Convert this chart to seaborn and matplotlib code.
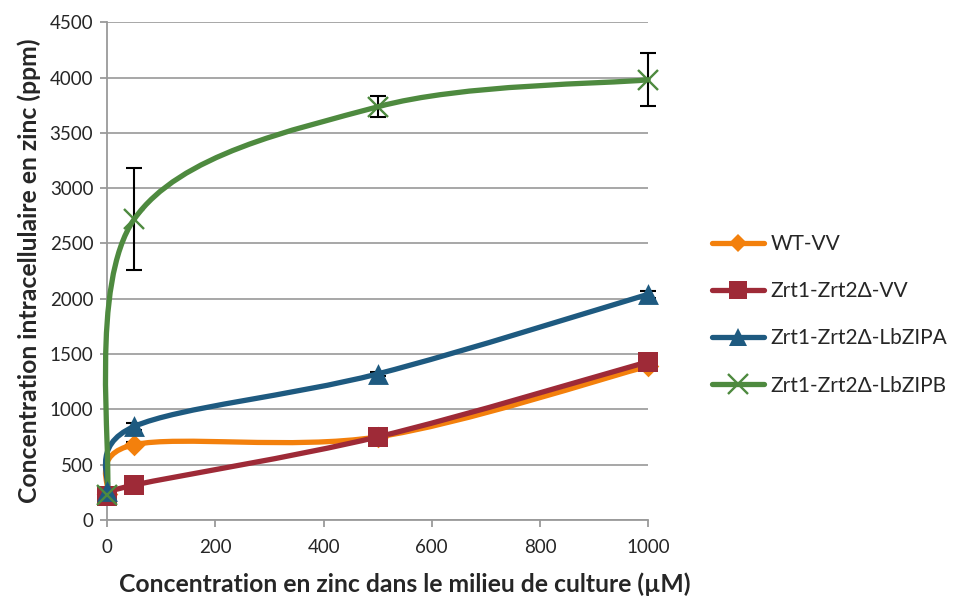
import numpy as np
import pandas as pd
import matplotlib
matplotlib.use("Agg")
import matplotlib.pyplot as plt
from matplotlib.path import Path
from matplotlib.patches import PathPatch
from matplotlib.lines import Line2D
import seaborn as sns

# data
zinc = [0, 50, 500, 1000]
wt_vv = [230, 680, 750, 1390]
vv = [215, 315, 750, 1430]
lbzipa = [260, 845, 1320, 2040]
lbzipb = [225, 2720, 3735, 3980]
err_wt = [15, 20, 20, 30]
err_vv = [15, 40, 20, 25]
err_a = [15, 30, 20, 30]
err_b = [15, 465, 95, 240]

series = ["WT-VV", "Zrt1-Zrt2Δ-VV", "Zrt1-Zrt2Δ-LbZIPA", "Zrt1-Zrt2Δ-LbZIPB"]
values = [wt_vv, vv, lbzipa, lbzipb]
errors = [err_wt, err_vv, err_a, err_b]
colors = ["#F3800C", "#9E2A37", "#1E5A80", "#4E8A3F"]
markers = ["D", "s", "^", "x"]
msizes = [11, 15, 15, 14]

sns.set_style("white")
plt.rcParams["font.family"] = ["Lato", "DejaVu Sans"]

fig = plt.figure(figsize=(9.66, 6.01), dpi=100)
ax = fig.add_axes([0.111, 0.135, 0.56, 0.828])


def smooth_path(xs, ys):
    # Excel-style smoothed line: cubic bezier with catmull-rom control points
    p = np.column_stack([xs, ys]).astype(float)
    n = len(p)
    verts = [p[0]]
    codes = [Path.MOVETO]
    for i in range(n - 1):
        p0 = p[i - 1] if i > 0 else p[i]
        p3 = p[i + 2] if i + 2 < n else p[i + 1]
        c1 = p[i] + (p[i + 1] - p0) / 6
        c2 = p[i + 1] - (p3 - p[i]) / 6
        verts += [c1, c2, p[i + 1]]
        codes += [Path.CURVE4] * 3
    return Path(verts, codes)


rows = []
for name, vals in zip(series, values):
    for x, y in zip(zinc, vals):
        rows.append({"zinc": x, "ppm": y, "souche": name})
df = pd.DataFrame(rows)

for name, vals, errs, c in zip(series, values, errors, colors):
    eb = ax.errorbar(zinc, vals, yerr=errs, fmt="none", ecolor="black",
                     elinewidth=1.5, capsize=6, capthick=1.5, zorder=3)
    for art in eb.get_children():
        art.set_clip_on(False)
    ax.add_patch(PathPatch(smooth_path(zinc, vals), facecolor="none",
                           edgecolor=c, lw=3.8, capstyle="round",
                           joinstyle="round", zorder=4, clip_on=False))

for name, c, m, s in zip(series, colors, markers, msizes):
    sub = df[df["souche"] == name]
    if m == "x":
        ax.plot(sub["zinc"], sub["ppm"], ls="none", marker="x", ms=s,
                mec=c, mew=1.7, zorder=5, clip_on=False)
    else:
        sns.scatterplot(data=sub, x="zinc", y="ppm", marker=m, s=s ** 2,
                        color=c, edgecolor=c, linewidth=0, ax=ax, zorder=5,
                        legend=False, clip_on=False)

ax.set_xlim(0, 1000)
ax.set_ylim(0, 4500)
ax.set_xticks(range(0, 1001, 200))
ax.set_yticks(range(0, 4501, 500))
ax.grid(axis="y", color="#A0A0A0", lw=1.3)
ax.grid(axis="x", visible=False)
ax.set_axisbelow(True)
for side in ["top", "right"]:
    ax.spines[side].set_visible(False)
for side in ["left", "bottom"]:
    ax.spines[side].set_color("#9A9A9A")
    ax.spines[side].set_linewidth(1.3)
ax.tick_params(axis="both", length=5, width=1.3, color="#9A9A9A",
               labelsize=13.5, pad=5, direction="out", bottom=True, left=True)
ax.tick_params(axis="x", pad=9)
ax.set_xlabel("Concentration en zinc dans le milieu de culture (µM)",
              fontsize=17.8, fontweight="bold")
ax.xaxis.set_label_coords(0.55, -0.105)
ax.set_ylabel("Concentration intracellulaire en zinc (ppm)",
              fontsize=17.8, fontweight="bold", labelpad=6)

handles = []
for c, m, s in zip(colors, markers, msizes):
    if m == "x":
        handles.append(Line2D([], [], color=c, lw=3.8, marker="x", ms=s,
                              mew=1.7, solid_capstyle="round"))
    else:
        handles.append(Line2D([], [], color=c, lw=3.8, marker=m, ms=s * 0.85,
                              mew=0, solid_capstyle="round"))
fig.legend(handles, series, loc="center left", bbox_to_anchor=(0.718, 0.476),
           frameon=False, fontsize=15, handlelength=2.5, labelspacing=1.3,
           handletextpad=0.3)

fig.savefig("out.png", dpi=100)
